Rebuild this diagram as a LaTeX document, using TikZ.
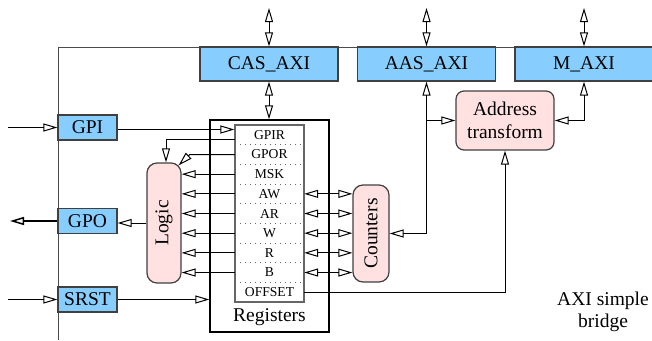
\documentclass[tikz,border=0pt]{standalone}
\usepackage{fontspec}
\setmainfont{Liberation Serif}
\usetikzlibrary{arrows.meta}
\definecolor{axiblue}{RGB}{135,206,255}
\definecolor{funcpink}{RGB}{255,225,225}

\begin{document}
\begin{tikzpicture}[
    x=1pt, y=-1pt,
    >={Triangle[open, length=14pt, width=8pt]},
    font=\fontsize{19.5}{22.5}\selectfont,
    % Core styles: blue interface boxes, pink function blocks, register rows
    axibox/.style={draw=black!75, line width=1.2pt, fill=axiblue, inner sep=0pt, minimum width=138pt, minimum height=34pt},
    iobox/.style={axibox, minimum width=59pt, minimum height=25pt},
    funcbox/.style={draw=black!75, line width=1.2pt, fill=funcpink, rounded corners=10pt, inner sep=0pt, align=center},
    regrow/.style={inner sep=0pt, minimum width=69pt, minimum height=19.67pt, font=\fontsize{13.6}{15}\selectfont},
    regdiv/.style={draw=black!60, line width=1pt, dash pattern=on 1pt off 4pt},
    link/.style={draw=black, line width=1pt}
  ]

  % Bounding box locked to the 652 x 340 frame of the reference
  \useasboundingbox (0,0) rectangle (652,340);

  % ---------------------------------------------------------
  % OUTER FRAME (drawn first, boxes sit on top of it)
  % ---------------------------------------------------------
  \draw[link, draw=black!70] (58,340) -- (58,47) -- (652,47);

  % ---------------------------------------------------------
  % AXI INTERFACES (Y = 64)
  % ---------------------------------------------------------
  \node[axibox] (cas) at (269,64) {CAS\_AXI};
  \node[axibox] (aas) at (426.5,64) {AAS\_AXI};
  \node[axibox] (maxi) at (584,64) {M\_AXI};

  \coordinate (casext) at (269,8);
  \coordinate (aasext) at (426.5,8);
  \coordinate (maxiext) at (584,8);

  \draw[link, <->] (casext) -- (cas.north);
  \draw[link, <->] (aasext) -- (aas.north);
  \draw[link, <->] (maxiext) -- (maxi.north);

  % ---------------------------------------------------------
  % GENERAL PURPOSE PORTS (X = 87.5)
  % ---------------------------------------------------------
  \node[iobox] (gpi) at (87.5,127.5) {GPI};
  \node[iobox] (gpo) at (87.5,221) {GPO};
  \node[iobox] (srst) at (87.5,299.5) {SRST};

  \coordinate (gpiext) at (8,127.5);
  \coordinate (gpoext) at (10,221);
  \coordinate (srstext) at (8,299.5);

  \draw[link, ->] (gpiext) -- (gpi.west);
  \draw[link, line width=1.5pt, ->] (gpo.west) -- (gpoext);
  \draw[link, ->] (srstext) -- (srst.west);

  % ---------------------------------------------------------
  % REGISTER FILE
  % ---------------------------------------------------------
  \node[draw, line width=1.3pt, minimum width=119pt, minimum height=212pt, inner sep=0pt] (regs) at (269.5,226) {};
  \node[draw=black!60, line width=1.2pt, minimum width=69pt, minimum height=177pt, inner sep=0pt] (regin) at (269.5,213.5) {};
  \node (regslbl) at (269.5,317) {Registers};

  \foreach \name/\lbl [count=\i] in {gpir/GPIR, gpor/GPOR, msk/MSK, aw/AW, ar/AR, w/W, r/R, b/B, offset/OFFSET}
    \node[regrow] (\name) at (269.5,{125+(\i-0.5)*19.67}) {\lbl};

  % Dotted dividers between the rows
  \foreach \name in {gpir, gpor, msk, aw, ar, w, r, b}
    \draw[regdiv] (\name.south west) -- (\name.south east);

  % ---------------------------------------------------------
  % FUNCTION BLOCKS
  % ---------------------------------------------------------
  \node[funcbox, minimum width=34pt, minimum height=120pt] (logic) at (164,223) {};
  \node[rotate=90] (logiclbl) at (logic) {Logic};

  \node[funcbox, minimum width=36pt, minimum height=97pt] (cnt) at (371,233.5) {};
  \node[rotate=90] (cntlbl) at (cnt) {Counters};

  \node[funcbox, rounded corners=8pt, minimum width=98pt, minimum height=59pt] (addr) at (505,120.5) {Address\\transform};

  \node[align=center] (title) at (603,312) {AXI simple\\bridge};

  % ---------------------------------------------------------
  % CONNECTIONS
  % ---------------------------------------------------------
  \draw[link, <->] (cas.south) -- (cas.south |- regs.north);
  \draw[link, ->] ([yshift=-2pt]gpi.east) -- ([yshift=-2pt]gpi.east -| regin.west);
  \draw[link, ->] (srst.east) -- (srst.east -| regs.west);

  % Registers to logic
  \draw[link, ->] ([yshift=-5pt]gpir.west) -| ([xshift=2pt]logic.north);
  \draw[link, ->] (gpor.west) -- ++(-45,0) -- ([xshift=-3pt,yshift=-3pt]logic.north east);
  \foreach \name in {msk, aw, ar, w, r, b}
    \draw[link, ->] (\name.west) -- (\name.west -| logic.east);
  \draw[link, ->] (logic.west) -- (logic.west -| gpo.east);

  % Registers to counters
  \foreach \name in {aw, ar, w, r, b}
    \draw[link, <->] (\name.east) -- (\name.east -| cnt.west);

  % Counters and address transform to the AXI sides
  \draw[link, <->] (cnt.east) -| (aas.south);
  \draw[link, ->] (aas.south |- addr.west) -- (addr.west);
  \draw[link, <->] (maxi.south) |- (addr.east);
  \draw[link, ->] (offset.east) -| (addr.south);

\end{tikzpicture}
\end{document}
